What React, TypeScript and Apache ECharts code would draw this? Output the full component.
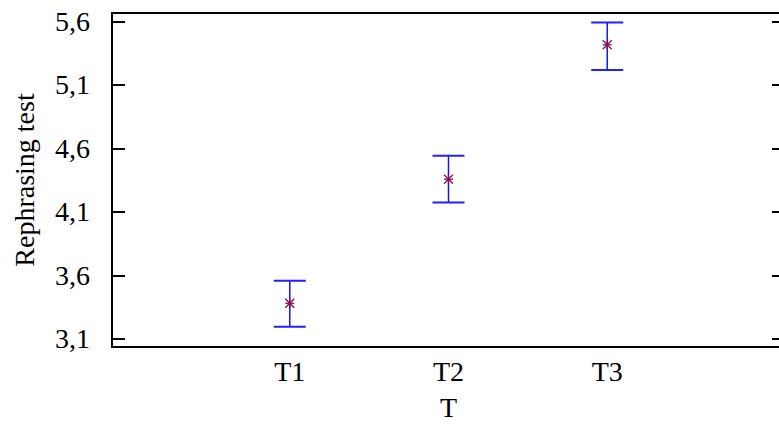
import React, { useEffect, useRef } from "react";
import * as echarts from "echarts";

const categories = ["T1", "T2", "T3"];
const means = [3.381, 4.357, 5.415];
const lowerBounds = [3.197, 4.173, 5.216];
const upperBounds = [3.559, 4.541, 5.591];
const yTicks = [3.1, 3.6, 4.1, 4.6, 5.1, 5.6];
const xTicks = [1, 2, 3];

const FONT = "'Liberation Serif', 'Times New Roman', serif";
const FS = 28;

export default function App() {
  const ref = useRef<HTMLDivElement>(null);
  useEffect(() => {
    if (!ref.current) return;
    const chart = echarts.init(ref.current, null, { renderer: "svg" });
    const data = categories.map((c, i) => [xTicks[i], means[i], lowerBounds[i], upperBounds[i]]);
    const yTickStyle = {
      show: true,
      inside: true,
      length: 13,
      customValues: yTicks,
      lineStyle: { color: "#000", width: 2 },
    };
    chart.setOption({
      animation: false,
      backgroundColor: "#ffffff",
      grid: {
        left: 112,
        right: -6,
        top: 13,
        bottom: 77,
        show: true,
        borderColor: "#000",
        borderWidth: 2,
        containLabel: false,
        outerBoundsMode: "none",
      },
      xAxis: {
        type: "value",
        min: -0.12,
        max: 4.12,
        name: "T",
        nameLocation: "middle",
        nameGap: 46,
        nameTextStyle: { fontFamily: FONT, fontSize: FS, color: "#000" },
        axisLine: { show: true, onZero: false, lineStyle: { color: "#000", width: 2 } },
        axisTick: { show: false },
        splitLine: { show: false },
        axisLabel: {
          customValues: xTicks,
          formatter: (v: number) => categories[Math.round(v) - 1] ?? "",
          fontFamily: FONT,
          fontSize: FS,
          color: "#000",
          margin: 10,
        },
      },
      yAxis: [
        {
          type: "value",
          min: 3.037,
          max: 5.665,
          name: "Rephrasing test",
          nameLocation: "middle",
          nameGap: 74,
          nameTextStyle: { fontFamily: FONT, fontSize: FS, color: "#000" },
          axisLine: { show: true, onZero: false, lineStyle: { color: "#000", width: 2 } },
          axisTick: yTickStyle,
          splitLine: { show: false },
          axisLabel: {
            customValues: yTicks,
            formatter: (v: number) => v.toFixed(1).replace(".", ","),
            fontFamily: FONT,
            fontSize: FS,
            color: "#000",
            margin: 22,
          },
        },
        {
          type: "value",
          position: "right",
          min: 3.037,
          max: 5.665,
          axisLine: { show: true, onZero: false, lineStyle: { color: "#000", width: 2 } },
          axisTick: yTickStyle,
          splitLine: { show: false },
          axisLabel: { show: false },
        },
      ],
      series: [
        {
          type: "custom",
          data,
          renderItem: (params: any, api: any) => {
            const x = api.value(0);
            const pm = api.coord([x, api.value(1)]);
            const pl = api.coord([x, api.value(2)]);
            const ph = api.coord([x, api.value(3)]);
            const hw = 16;
            const s = 4.5;
            const bar = { stroke: "#1515e6", lineWidth: 1.5 };
            const cap = { stroke: "#2020ff", lineWidth: 2 };
            const star = { stroke: "#8a1050", lineWidth: 1.3 };
            return {
              type: "group",
              children: [
                { type: "line", shape: { x1: pl[0], y1: pl[1], x2: ph[0], y2: ph[1] }, style: bar },
                { type: "line", shape: { x1: pl[0] - hw, y1: pl[1], x2: pl[0] + hw, y2: pl[1] }, style: cap },
                { type: "line", shape: { x1: ph[0] - hw, y1: ph[1], x2: ph[0] + hw, y2: ph[1] }, style: cap },
                { type: "line", shape: { x1: pm[0] - s, y1: pm[1], x2: pm[0] + s, y2: pm[1] }, style: star },
                { type: "line", shape: { x1: pm[0], y1: pm[1] - s, x2: pm[0], y2: pm[1] + s }, style: star },
                { type: "line", shape: { x1: pm[0] - s, y1: pm[1] - s, x2: pm[0] + s, y2: pm[1] + s }, style: star },
                { type: "line", shape: { x1: pm[0] - s, y1: pm[1] + s, x2: pm[0] + s, y2: pm[1] - s }, style: star },
              ],
            };
          },
        },
      ],
    });
    return () => chart.dispose();
  }, []);
  return (
    <div
      ref={ref}
      style={{ position: "fixed", left: 0, top: 0, width: 779, height: 424, background: "#fff" }}
    />
  );
}
